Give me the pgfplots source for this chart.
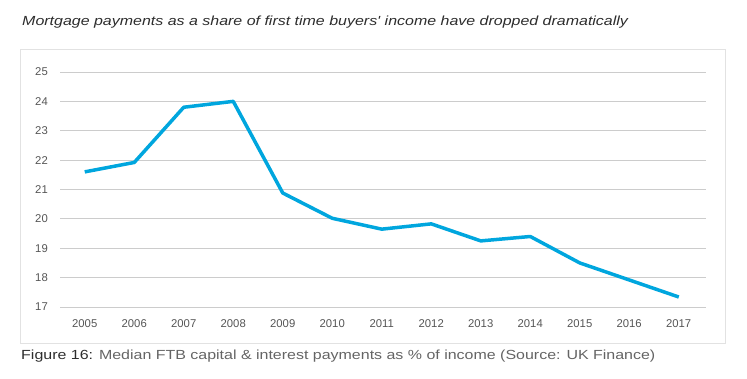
\documentclass[border=0pt]{standalone}
\usepackage{pgfplots}
\pgfplotsset{compat=1.18}
\usepackage{fontspec}
\setmainfont{Liberation Sans}
\newfontfamily\widefont{Liberation Sans}[FakeStretch=1.21]
\definecolor{linecol}{RGB}{0,166,222}
\definecolor{gridcol}{RGB}{204,204,204}
\definecolor{framecol}{RGB}{226,226,226}
\definecolor{tickcol}{RGB}{85,85,85}
\definecolor{titlecol}{RGB}{45,45,45}
\definecolor{capcol}{RGB}{100,100,100}
\begin{document}
\begin{tikzpicture}
\path[use as bounding box] (0,0) rectangle (747pt,379pt);
\draw[framecol, line width=1pt] (20pt,35pt) rectangle (725pt,329pt);
\node[anchor=west, inner sep=0pt, text=titlecol, font=\widefont\fontsize{13.2}{15}\selectfont\itshape] at (22pt,357pt) {Mortgage payments as a share of first time buyers' income have dropped dramatically};
\node[anchor=west, inner sep=0pt, font=\widefont\fontsize{13.2}{15}\selectfont] at (21pt,23pt) {\textcolor{titlecol}{Figure 16:} \textcolor{capcol}{Median FTB capital \& interest payments as \% of income (Source: UK Finance)}};
\begin{axis}[
  at={(60pt,72pt)}, anchor=south west,
  scale only axis, width=646pt, height=235pt,
  xmin=2004.5, xmax=2017.55, ymin=17, ymax=25,
  xtick={2005,...,2017}, ytick={17,...,25},
  axis line style={draw=none}, tick style={draw=none},
  major tick length=0pt,
  ymajorgrids, grid style={gridcol, line width=0.9pt},
  /pgf/number format/.cd, 1000 sep={}, assume math mode=true, /pgfplots/.cd,
  ticklabel style={font=\fontsize{11.3}{13}\selectfont, text=tickcol, inner sep=0pt},
  yticklabel style={anchor=east, xshift=-12pt},
  xticklabel style={anchor=north, yshift=-12.5pt},
  clip=false,
]
\addplot[linecol, line width=3.5pt, line join=round] coordinates {
(2005,21.60) (2006,21.92) (2007,23.80) (2008,24.00) (2009,20.88) (2010,20.02) (2011,19.65) (2012,19.83) (2013,19.25) (2014,19.40) (2015,18.50) (2016,17.92) (2017,17.34)
};
\end{axis}
\end{tikzpicture}
\end{document}
